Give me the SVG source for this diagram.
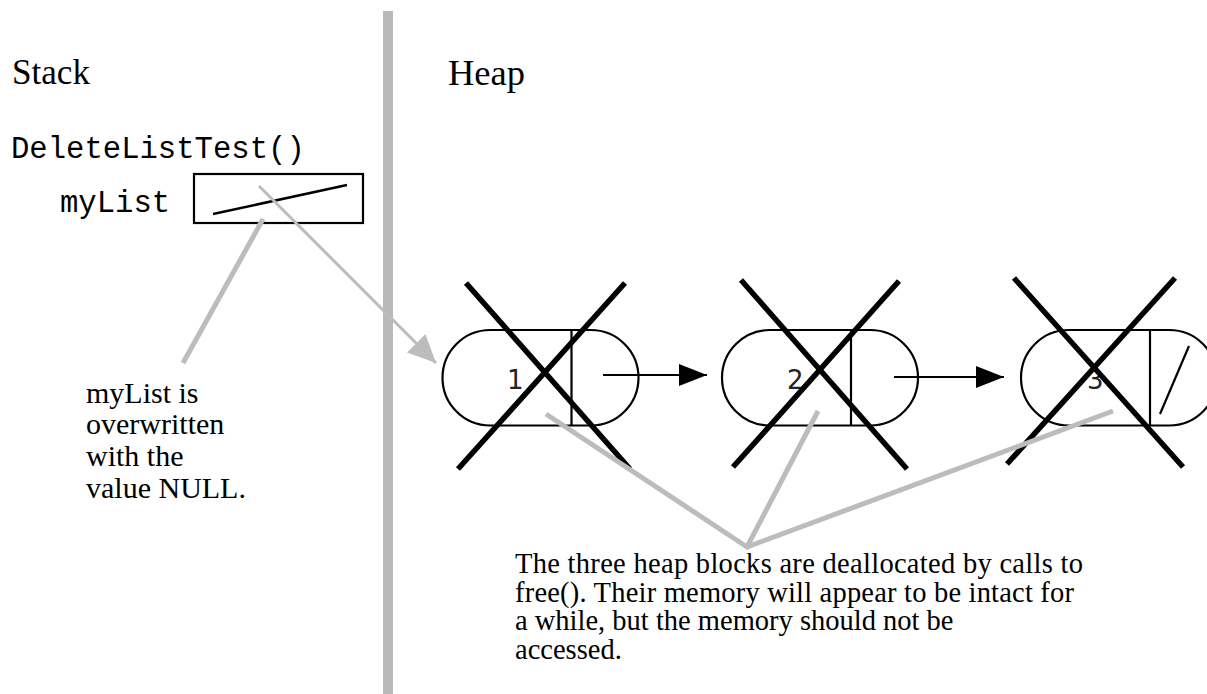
<svg xmlns="http://www.w3.org/2000/svg" width="1207" height="694" viewBox="0 0 1207 694">
<style>
.serif{font-family:"Liberation Serif","Times New Roman",serif;fill:#000}
.mono{font-family:"Liberation Mono","Courier New",monospace;fill:#000;font-size:30.6px}
.num{font-family:"DejaVu Sans",sans-serif;font-size:26px;fill:#222}
.pill{fill:none;stroke:#000;stroke-width:2.2}
.div{stroke:#000;stroke-width:2.2}
.cross{stroke:#000;stroke-width:5.5;stroke-linecap:butt}
.ptr{stroke:#000;stroke-width:2.2}
.gthin{stroke:#bcbcbc;stroke-width:3;fill:none}
.gthick{stroke:#bcbcbc;stroke-width:5;fill:none}
</style>
<defs>
<marker id="ah" markerUnits="userSpaceOnUse" markerWidth="28" markerHeight="22" refX="28" refY="11" orient="auto">
<path d="M0,0 L28,11 L0,22 z" fill="#000"/>
</marker>
<marker id="gah" markerUnits="userSpaceOnUse" markerWidth="28" markerHeight="26" refX="28" refY="13" orient="auto">
<path d="M0,0 L28,13 L0,26 z" fill="#bcbcbc"/>
</marker>
</defs>
<rect width="1207" height="694" fill="#fff"/>
<rect id="divider" x="383" y="11" width="10" height="683" fill="#b9b9b9"/>
<text class="serif" x="12" y="84" font-size="35" textLength="78" lengthAdjust="spacingAndGlyphs">Stack</text>
<text class="serif" x="448" y="85" font-size="35" textLength="77" lengthAdjust="spacingAndGlyphs">Heap</text>
<g id="stackframe">
<text class="mono" x="11" y="158">DeleteListTest()</text>
<text class="mono" x="60" y="212">myList</text>
</g>
<g id="myList">
<rect x="194" y="174" width="169" height="49" fill="none" stroke="#000" stroke-width="2.2"/>
<line x1="213" y1="214" x2="347" y2="185" stroke="#000" stroke-width="2.5"/>
</g>
<g id="node1">
<rect class="pill" x="442.5" y="330" width="196" height="95.5" rx="47.75"/>
<line class="div" x1="571.5" y1="330" x2="571.5" y2="425.5"/>
<text class="num" x="507" y="389">1</text>
<line class="cross" x1="466" y1="283" x2="630" y2="469"/>
<line class="cross" x1="625" y1="283" x2="458" y2="469"/>
</g>
<g id="node2">
<rect class="pill" x="722" y="330" width="196" height="95.5" rx="47.75"/>
<line class="div" x1="851" y1="330" x2="851" y2="425.5"/>
<text class="num" x="787" y="389">2</text>
<line class="cross" x1="741" y1="280" x2="907" y2="469"/>
<line class="cross" x1="899" y1="281" x2="733" y2="467"/>
</g>
<g id="node3">
<rect class="pill" x="1021" y="330" width="196" height="95.5" rx="47.75"/>
<line class="div" x1="1150" y1="330" x2="1150" y2="425.5"/>
<text class="num" x="1087" y="389">3</text>
<line x1="1160" y1="414" x2="1189" y2="346" stroke="#000" stroke-width="2.2"/>
<line class="cross" x1="1014" y1="278" x2="1183" y2="467"/>
<line class="cross" x1="1175" y1="278" x2="1007" y2="464"/>
</g>
<g id="note-null">
<text class="serif" font-size="30">
<tspan x="86" y="403">myList is</tspan>
<tspan x="86" y="434">overwritten</tspan>
<tspan x="86" y="466">with the</tspan>
<tspan x="86" y="498">value NULL.</tspan>
</text>
</g>
<g id="note-free">
<text class="serif" font-size="28.5">
<tspan x="515" y="573" textLength="568" lengthAdjust="spacing">The three heap blocks are deallocated by calls to</tspan>
<tspan x="515" y="601.5" textLength="559" lengthAdjust="spacing">free(). Their memory will appear to be intact for</tspan>
<tspan x="515" y="630">a while, but the memory should not be</tspan>
<tspan x="515" y="658.5">accessed.</tspan>
</text>
</g>
<g id="connectors">
<line class="ptr" x1="603" y1="375" x2="707" y2="375" marker-end="url(#ah)"/>
<line class="ptr" x1="894" y1="377" x2="1004" y2="377" marker-end="url(#ah)"/>
<line class="gthin" x1="259" y1="186" x2="436" y2="363" marker-end="url(#gah)"/>
<line class="gthick" x1="263" y1="219" x2="183" y2="363"/>
<polyline class="gthick" points="546,414 747,547 818,411"/>
<line class="gthick" x1="747" y1="547" x2="1113" y2="411"/>
</g>
</svg>
